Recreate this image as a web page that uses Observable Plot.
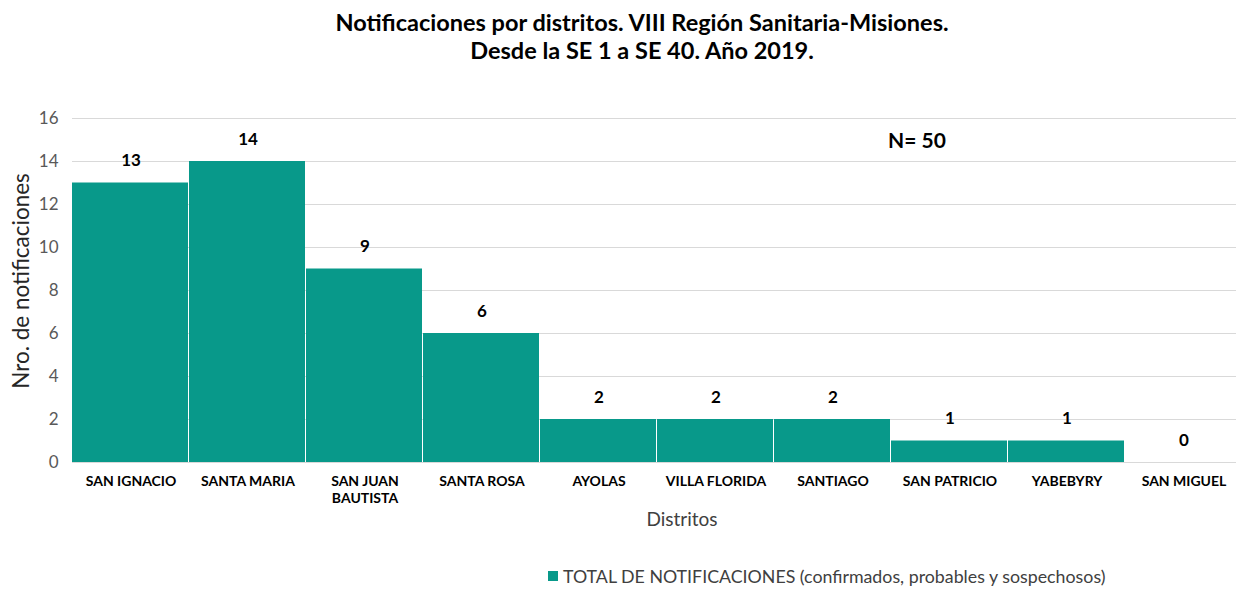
<!DOCTYPE html>
<html><head><meta charset="utf-8">
<script src="https://cdn.jsdelivr.net/npm/d3@7"></script>
<script src="https://cdn.jsdelivr.net/npm/@observablehq/plot@0.6"></script>
<style>
body{margin:0;background:#fff;font-family:Lato,"Open Sans",sans-serif;width:1236px;height:589px;position:relative;overflow:hidden}
#title{position:absolute;left:0;width:1284px;top:8px;text-align:center;font-weight:bold;font-size:23.5px;line-height:28px;color:#000}
#chart{position:absolute;left:0;top:80px;width:1242px}
#chart svg{max-width:none !important;width:1242px;height:460px}
#n{position:absolute;left:888px;top:127px;font-weight:bold;font-size:21px;color:#000}
#ylab{position:absolute;left:20px;top:281px;transform:translate(-50%,-50%) rotate(-90deg);white-space:nowrap;font-size:22.5px;color:#262626}
#xlab{position:absolute;left:682px;top:518px;transform:translate(-50%,-50%);white-space:nowrap;font-size:19px;color:#404040}
#legend{position:absolute;left:548px;top:565px;font-size:17.8px;color:#404040;display:flex;align-items:center;white-space:nowrap}
#legend span.sw{display:inline-block;width:10px;height:10px;background:#08998A;margin-right:5px}
svg [aria-label="y-axis tick label"]{font-size:17px;fill:#595959}
svg [aria-label="x-axis tick label"]{font-size:14px;font-weight:bold;fill:#000}
</style></head>
<body>
<div id="title">Notificaciones por distritos. VIII Región Sanitaria-Misiones.<br>Desde la SE 1 a SE 40. Año 2019.</div>
<div id="chart"></div>
<div id="n">N= 50</div>
<div id="ylab">Nro. de notificaciones</div>
<div id="xlab">Distritos</div>
<div id="legend"><span class="sw"></span>TOTAL DE NOTIFICACIONES (confirmados, probables y sospechosos)</div>
<script>
const districts = ["SAN IGNACIO","SANTA MARIA","SAN JUAN\nBAUTISTA","SANTA ROSA","AYOLAS","VILLA FLORIDA","SANTIAGO","SAN PATRICIO","YABEBYRY","SAN MIGUEL"];
const totals = [13,14,9,6,2,2,2,1,1,0];
const yTicks = [0,2,4,6,8,10,12,14,16];
const data = districts.map((d,i)=>({district:d,total:totals[i]}));
const color = "#08998A";
const chart = Plot.plot({
  width:1242, height:460,
  marginTop:38, marginBottom:78, marginLeft:72, marginRight:0,
  style:{fontFamily:"Lato, 'Open Sans', sans-serif", background:"#fff"},
  x:{domain:districts, padding:0, label:null, tickSize:0, tickPadding:12},
  y:{domain:[0,16], ticks:yTicks, label:null, tickSize:0, tickPadding:14},
  marks:[
    Plot.gridY(yTicks,{stroke:"#d9d9d9", strokeOpacity:1}),
    Plot.barY(data,{x:"district", y:"total", fill:color, insetRight:1}),
    Plot.text(data,{x:"district", y:"total", text:d=>String(d.total), dy:-22, fontWeight:"bold", fontSize:17, fill:"#000"}),
    Plot.axisY({ticks:yTicks, tickSize:0, tickPadding:14, label:null}),
    Plot.axisX({tickSize:0, tickPadding:12, label:null, lineHeight:1.2})
  ]
});
document.getElementById("chart").appendChild(chart);
</script>
</body></html>
